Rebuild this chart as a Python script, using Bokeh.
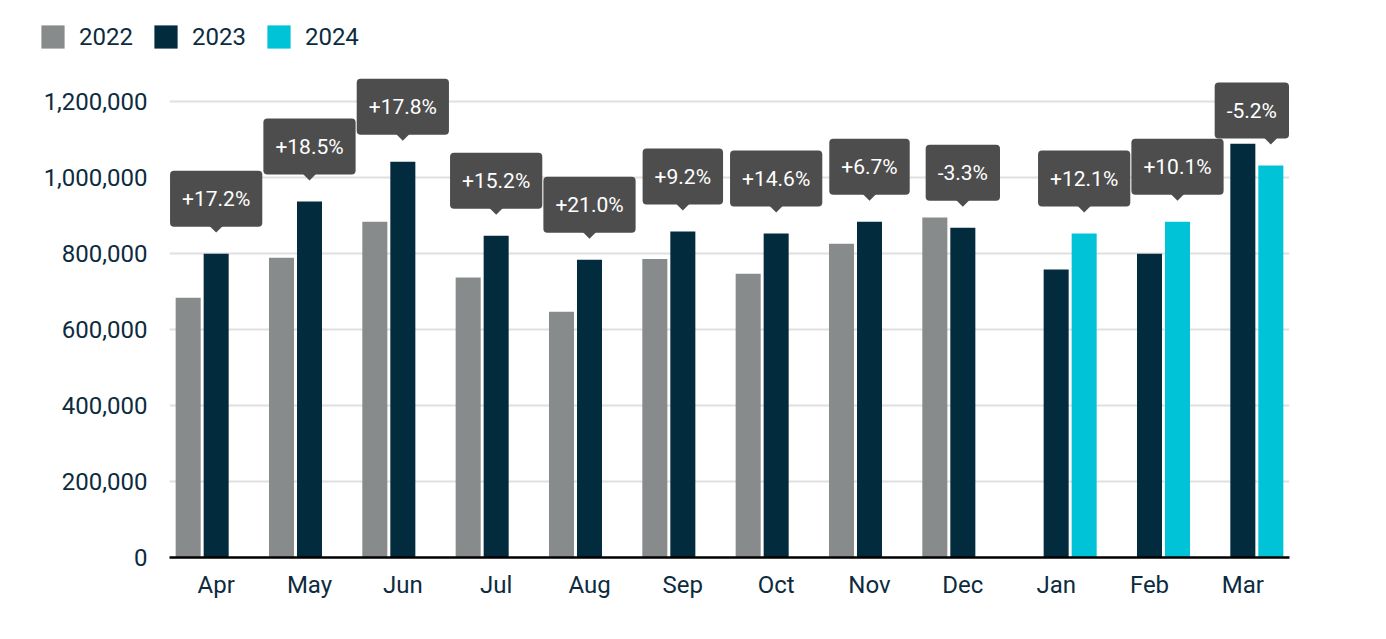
import math
from bokeh.plotting import figure
from bokeh.layouts import column
from bokeh.embed import file_html
from bokeh.resources import INLINE
from bokeh.models import (ColumnDataSource, FactorRange, FixedTicker, NumeralTickFormatter,
                          Legend, LegendItem, Label)
from bokeh.transform import dodge

NAN = float("nan")

months = ["Apr", "May", "Jun", "Jul", "Aug", "Sep", "Oct", "Nov", "Dec", "Jan", "Feb", "Mar"]
sales_2022 = [684000, 789000, 884000, 737000, 647000, 786000, 747000, 826000, 895000, NAN, NAN, NAN]
sales_2023 = [800000, 937000, 1042000, 847000, 784000, 858000, 853000, 884000, 868000, 758000, 800000, 1089000]
sales_2024 = [NAN, NAN, NAN, NAN, NAN, NAN, NAN, NAN, NAN, 853000, 884000, 1032000]
yoy_change = ["+17.2%", "+18.5%", "+17.8%", "+15.2%", "+21.0%", "+9.2%", "+14.6%", "+6.7%",
              "-3.3%", "+12.1%", "+10.1%", "-5.2%"]
years = ["2022", "2023", "2024"]
y_ticks = [0, 200000, 400000, 600000, 800000, 1000000, 1200000]

GREY = "#878b8b"
NAVY = "#022b3d"
CYAN = "#00c3d8"
CALLOUT = "#4d4d4d"
TEXT = "#0d2b3e"
colors = [GREY, NAVY, CYAN]

W = 1378
LEG_H = 60
H = 571
TOP, BOTTOM, LEFT, RIGHT = 10, 74, 169, 89
FRAME_H = H - TOP - BOTTOM
Y_END = FRAME_H * 1200000 / 455.8
UPP = Y_END / FRAME_H  # data units per pixel

src = ColumnDataSource(dict(month=months, y2022=sales_2022, y2023=sales_2023, y2024=sales_2024))

p = figure(width=W, height=H, x_range=FactorRange(*months, range_padding=0), y_range=(0, Y_END),
           toolbar_location=None, output_backend="svg",
           min_border_left=LEFT, min_border_right=RIGHT, min_border_top=TOP, min_border_bottom=BOTTOM)
p.outline_line_color = None
p.frame_align = False

bw = 0.268
p.vbar(x=dodge("month", -0.3, range=p.x_range), top="y2022", width=bw, source=src,
       color=GREY, line_width=0)
p.vbar(x=dodge("month", 0.0, range=p.x_range), top="y2023", width=bw, source=src,
       color=NAVY, line_width=0)
p.vbar(x=dodge("month", 0.3, range=p.x_range), top="y2024", width=bw, source=src,
       color=CYAN, line_width=0)

# axes
p.xaxis.axis_line_color = "black"
p.xaxis.axis_line_width = 2.5
p.xaxis.major_tick_line_color = None
p.xaxis.minor_tick_line_color = None
p.xaxis.major_label_text_font = "Roboto"
p.xaxis.major_label_text_font_size = "24px"
p.xaxis.major_label_text_color = TEXT
p.xaxis.major_label_standoff = 7

p.yaxis.axis_line_color = None
p.yaxis.major_tick_line_color = None
p.yaxis.minor_tick_line_color = None
p.yaxis.ticker = FixedTicker(ticks=y_ticks)
p.yaxis.formatter = NumeralTickFormatter(format="0,0")
p.yaxis.major_label_text_font = "Roboto"
p.yaxis.major_label_text_font_size = "24px"
p.yaxis.major_label_text_color = TEXT
p.yaxis.major_label_standoff = 16

p.xgrid.grid_line_color = None
p.ygrid.grid_line_color = "#e0e0e0"
p.ygrid.grid_line_width = 2

# callouts with year-over-year change
tip_x, tip_y = [], []
for i, label in enumerate(yoy_change):
    if not math.isnan(sales_2024[i]):
        val, off = sales_2024[i], 0.3
    else:
        val, off = sales_2023[i], 0.0
    xpos = i + 0.5 + off
    tip_x.append(xpos)
    tip_y.append(val + 29 * UPP)
    shift = -19 if i == len(months) - 1 else 0
    p.add_layout(Label(x=xpos, y=val, x_offset=shift, y_offset=55, text=label,
                       text_align="center", text_baseline="middle", text_color="white",
                       text_font="Roboto", text_font_size="21px",
                       background_fill_color=CALLOUT, border_radius=4,
                       padding=dict(left=12, right=12, top=16, bottom=16)))

p.scatter(tip_x, tip_y, marker="square", angle=math.pi / 4, size=11.3,
          color=CALLOUT, line_width=0)

# legend strip above the chart (swatch renderers have zero height, only the legend shows)
leg = figure(width=W, height=LEG_H, x_range=(0, 1), y_range=(0, 1),
             toolbar_location=None, output_backend="svg", min_border=0)
leg.outline_line_color = None
leg.axis.visible = False
leg.grid.grid_line_color = None
leg.frame_align = False
items = []
for yr, c in zip(years, colors):
    r = leg.vbar(x=[0.5], top=[0], bottom=[0], width=0.01, color=c, line_width=0)
    items.append(LegendItem(label=yr, renderers=[r]))
legend = Legend(items=items, orientation="horizontal", location=(38, 9),
                label_text_font="Roboto", label_text_font_size="24px", label_text_color=TEXT,
                glyph_width=29, glyph_height=29, label_standoff=12, spacing=18,
                padding=0, margin=0, border_line_color=None, background_fill_alpha=0)
leg.add_layout(legend)

layout = column(leg, p, spacing=0)
open("out.html", "w").write(file_html(layout, INLINE))
